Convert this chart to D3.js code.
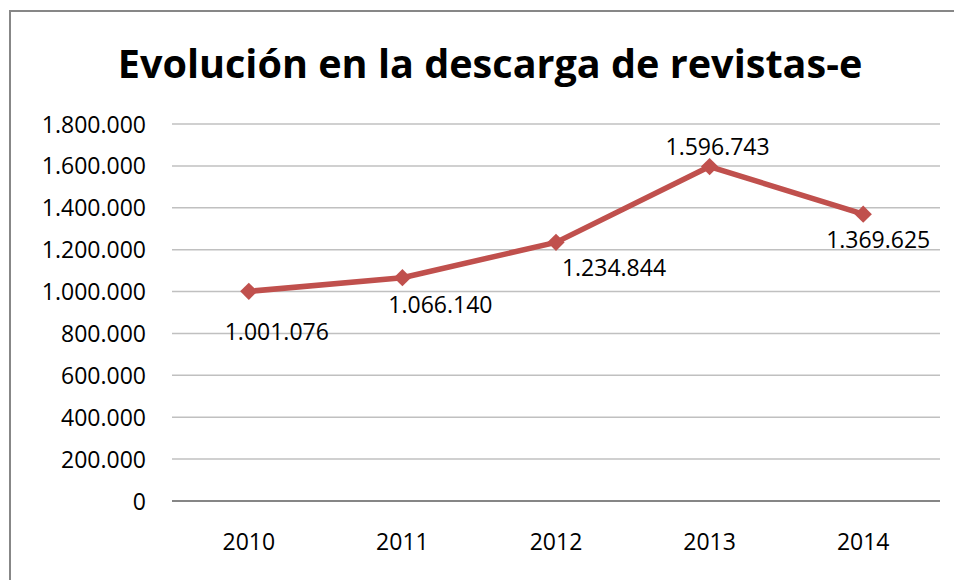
<!DOCTYPE html>
<html>
<head>
<meta charset="utf-8">
<script src="https://cdn.jsdelivr.net/npm/d3@7"></script>
<style>
  body { margin: 0; background: #fff; }
  text { font-family: "Open Sans", sans-serif; fill: #000; }
</style>
</head>
<body>
<svg id="chart" width="954" height="580"></svg>
<script>
// datos
const years = ["2010", "2011", "2012", "2013", "2014"]
const downloads = [1001076, 1066140, 1234844, 1596743, 1369625]
const yTicks = [0, 200000, 400000, 600000, 800000, 1000000, 1200000, 1400000, 1600000, 1800000]
const title = "Evolución en la descarga de revistas-e"

// desplazamiento de las etiquetas (como en el original, movidas a mano)
const labelDx = [28, 38, 58, 8, 15]
const labelDy = [41, 27, 26, -20, 26]

const svg = d3.select("#chart")
const width = 954, height = 580
const margin = {top: 124, right: 14, bottom: 79, left: 172}

// formato con puntos de miles
const fmt = d3.formatLocale({decimal: ",", thousands: ".", grouping: [3], currency: ["", "€"]}).format(",d")

// marco
svg.append("rect")
  .attr("x", 10).attr("y", 11)
  .attr("width", 1000).attr("height", 700)
  .attr("fill", "none")
  .attr("stroke", "#878787")
  .attr("stroke-width", 2)

const x = d3.scaleBand()
  .domain(years)
  .range([margin.left, width - margin.right])

const y = d3.scaleLinear()
  .domain([0, 1800000])
  .range([height - margin.bottom, margin.top])

// titulo
const t = svg.append("text")
  .attr("x", 490).attr("y", 78)
  .attr("text-anchor", "middle")
  .style("font-weight", "bold")
  .style("font-size", "40px")
  .text(title)
const tw = t.node().getComputedTextLength()
t.style("font-size", (40 * 745 / tw).toFixed(1) + "px")

// rejilla
svg.append("g")
  .selectAll("line")
  .data(yTicks)
  .join("line")
    .attr("x1", margin.left).attr("x2", width - margin.right)
    .attr("y1", d => y(d)).attr("y2", d => y(d))
    .attr("stroke", d => d === 0 ? "#868686" : "#c0c0c0")
    .attr("stroke-width", d => d === 0 ? 2 : 1.5)

// eje y
const yAxis = svg.append("g")
  .attr("transform", `translate(${margin.left - 26},0)`)
  .call(d3.axisLeft(y).tickValues(yTicks).tickFormat(fmt).tickSize(0).tickPadding(0))
yAxis.select(".domain").remove()
yAxis.selectAll("text")
  .style("font-size", "23px")
  .style("font-family", "'Open Sans', sans-serif")
  .attr("dy", "0.35em")

// eje x
const xAxis = svg.append("g")
  .attr("transform", `translate(0,${height - margin.bottom})`)
  .call(d3.axisBottom(x).tickSize(0).tickPadding(33))
xAxis.select(".domain").remove()
xAxis.selectAll("text")
  .style("font-size", "23px")
  .style("font-family", "'Open Sans', sans-serif")

const cx = d => x(d) + x.bandwidth() / 2

// linea
const line = d3.line()
  .x((d, i) => cx(years[i]))
  .y(d => y(d))

svg.append("path")
  .datum(downloads)
  .attr("d", line)
  .attr("fill", "none")
  .attr("stroke", "#c0504d")
  .attr("stroke-width", 5.5)
  .attr("stroke-linejoin", "round")

// marcadores
svg.append("g")
  .selectAll("path")
  .data(downloads)
  .join("path")
    .attr("d", d3.symbol(d3.symbolSquare, 150))
    .attr("transform", (d, i) => `translate(${cx(years[i])},${y(d)}) rotate(45)`)
    .attr("fill", "#c0504d")

// etiquetas de datos
svg.append("g")
  .selectAll("text")
  .data(downloads)
  .join("text")
    .attr("x", (d, i) => cx(years[i]) + labelDx[i])
    .attr("y", (d, i) => y(d) + labelDy[i])
    .attr("dy", "0.35em")
    .attr("text-anchor", "middle")
    .style("font-size", "23px")
    .text(d => fmt(d))
</script>
</body>
</html>
